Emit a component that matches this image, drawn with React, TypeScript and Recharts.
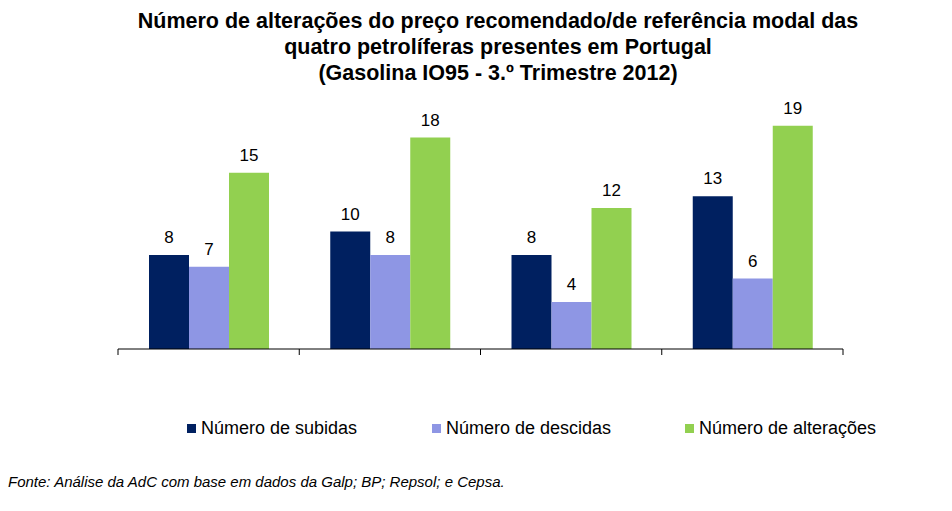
import React from 'react'
import { BarChart, Bar, XAxis, YAxis, LabelList } from 'recharts'

const CATEGORIES = ['Petrolífera 1', 'Petrolífera 2', 'Petrolífera 3', 'Petrolífera 4']
const SUBIDAS = [8, 10, 8, 13]
const DESCIDAS = [7, 8, 4, 6]
const ALTERACOES = [15, 18, 12, 19]
const BOUNDARY_TICKS = [0, 1, 2, 3, 4]

const SERIES = [
  { key: 'subidas', name: 'Número de subidas', color: '#002060', legendLeft: 187 },
  { key: 'descidas', name: 'Número de descidas', color: '#8E96E4', legendLeft: 432 },
  { key: 'alteracoes', name: 'Número de alterações', color: '#92D050', legendLeft: 685 },
]

const data = CATEGORIES.map((c, i) => ({
  name: c,
  idx: i + 0.5,
  subidas: SUBIDAS[i],
  descidas: DESCIDAS[i],
  alteracoes: ALTERACOES[i],
}))

const sans = 'Liberation Sans, Arial, sans-serif'

export default function App() {
  return (
    <div
      style={{
        position: 'absolute',
        left: 0,
        top: 0,
        width: 952,
        height: 511,
        background: '#fff',
        fontFamily: sans,
        overflow: 'hidden',
      }}
    >
      <div
        style={{
          position: 'absolute',
          top: 8,
          left: 44,
          width: 908,
          textAlign: 'center',
          fontWeight: 'bold',
          fontSize: 21.5,
          lineHeight: '26px',
          color: '#000',
          whiteSpace: 'nowrap',
        }}
      >
        Número de alterações do preço recomendado/de referência modal das
        <br />
        quatro petrolíferas presentes em Portugal
        <br />
        (Gasolina IO95 - 3.º Trimestre 2012)
      </div>

      <div style={{ position: 'absolute', left: 0, top: 0 }}>
        <BarChart
          width={952}
          height={400}
          data={data}
          margin={{ top: 114, left: 118, right: 109, bottom: 21 }}
          barGap={0}
          barSize={40}
        >
          <XAxis dataKey="name" xAxisId="cat" hide height={0} />
          <XAxis
            xAxisId="grid"
            type="number"
            dataKey="idx"
            domain={[0, 4]}
            ticks={BOUNDARY_TICKS}
            tickFormatter={() => ''}
            height={30}
            tickSize={6}
            axisLine={{ stroke: '#000' }}
            tickLine={{ stroke: '#000' }}
          />
          <YAxis hide domain={[0, 20]} />
          {SERIES.map((s) => (
            <Bar
              key={s.key}
              dataKey={s.key}
              name={s.name}
              fill={s.color}
              xAxisId="cat"
              isAnimationActive={false}
            >
              <LabelList
                dataKey={s.key}
                position="top"
                offset={12}
                fill="#000"
                fontSize={17}
                fontFamily={sans}
              />
            </Bar>
          ))}
        </BarChart>
      </div>

      {SERIES.map((s) => (
        <div
          key={s.key}
          style={{
            position: 'absolute',
            top: 418,
            left: s.legendLeft,
            display: 'flex',
            alignItems: 'center',
            fontSize: 18,
            color: '#000',
            lineHeight: '20px',
            whiteSpace: 'nowrap',
          }}
        >
          <span style={{ width: 9, height: 9, background: s.color, display: 'inline-block', marginRight: 5 }} />
          <span>{s.name}</span>
        </div>
      ))}

      <div
        style={{
          position: 'absolute',
          top: 473,
          left: 8,
          fontSize: 15,
          fontStyle: 'italic',
          color: '#000',
        }}
      >
        Fonte: Análise da AdC com base em dados da Galp; BP; Repsol; e Cepsa.
      </div>
    </div>
  )
}
